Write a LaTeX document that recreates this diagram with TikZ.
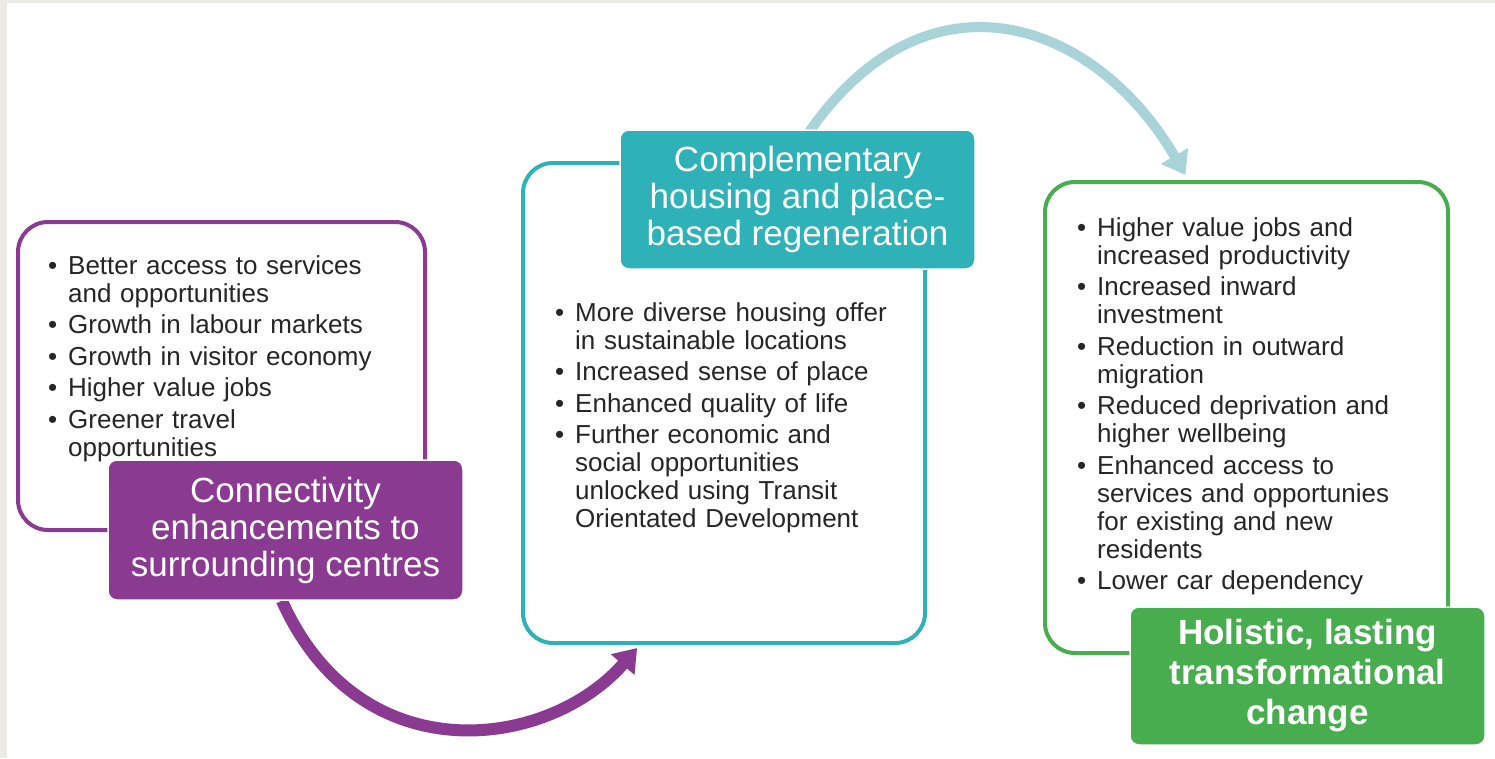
\documentclass[tikz,border=0pt]{standalone}
\usepackage{fontspec}
\setmainfont{Liberation Sans}
\usetikzlibrary{arrows.meta,calc}
\definecolor{cpurple}{HTML}{8B3A92}
\definecolor{cteal}{HTML}{2EB2B8}
\definecolor{cgreen}{HTML}{47AD4E}
\definecolor{carrow}{HTML}{A8D3D9}
\definecolor{cband}{HTML}{EBEAE5}
\definecolor{ctext}{HTML}{262626}
\newcommand\bitem[1]{\hangindent=20pt\hangafter=1\noindent\hbox to 20pt{\textbullet\hfil}#1\par}
\newcommand\nl{\hfil\break}
\pgfdeclarelayer{back}
\pgfdeclarelayer{bg}
\pgfsetlayers{back,bg,main}
\begin{document}
\begin{tikzpicture}[x=1pt,y=-1pt,
  obox/.style={draw=#1, line width=4pt, rounded corners=30pt, inner sep=0pt},
  tbox/.style={fill=#1, draw=white, line width=1.5pt, rounded corners=9pt, inner sep=0pt,
               align=center, text=white, font=\fontsize{35}{37}\selectfont},
  listtext/.style={anchor=base west, inner sep=0pt, text width=380pt, align=left,
               text=ctext, font=\fontsize{26}{28}\selectfont},
  bigarrow/.style={draw=#1, -{Triangle[width=30pt,length=22pt]}},
]
\begin{pgfonlayer}{back}
  \fill[cband] (0,0) rectangle (1495,758);
  \fill[white] (7,3) rectangle (1495,758);
\end{pgfonlayer}
\useasboundingbox (0,0) rectangle (1495,758);

% outline boxes
\node[obox=cpurple, minimum width=407pt, minimum height=308pt] (pbox) at (221.5,376) {};
\node[obox=cteal,   minimum width=402pt, minimum height=480pt] (tbox) at (724,403) {};
\node[obox=cgreen,  minimum width=403pt, minimum height=471pt] (gbox) at (1246.5,417.5) {};

% title boxes
\node[tbox=cpurple, minimum width=355pt, minimum height=140pt] (ptitle) at (285.5,530)
  {Connectivity\\enhancements to\\surrounding centres};
\node[tbox=cteal, minimum width=355pt, minimum height=139pt] (ttitle) at (797.5,199.5)
  {Complementary\\housing and place-\\based regeneration};
\node[tbox=cgreen, minimum width=355pt, minimum height=138pt,
      font=\fontsize{35}{40}\selectfont\bfseries] (gtitle) at (1307.5,676)
  {Holistic, lasting\\transformational\\change};

% lists
\node[listtext] (plist) at (48,274) {\setlength{\parskip}{3.5pt}%
  \bitem{Better access to services\nl and opportunities}
  \bitem{Growth in labour markets}
  \bitem{Growth in visitor economy}
  \bitem{Higher value jobs}
  \bitem{Greener travel\nl opportunities}};
\node[listtext] (tlist) at (555,321) {\setlength{\parskip}{3.5pt}%
  \bitem{More diverse housing offer\nl in sustainable locations}
  \bitem{Increased sense of place}
  \bitem{Enhanced quality of life}
  \bitem{Further economic and\nl social opportunities\nl unlocked using Transit\nl Orientated Development}};
\node[listtext] (glist) at (1077,236) {\setlength{\parskip}{3.5pt}%
  \bitem{Higher value jobs and\nl increased productivity}
  \bitem{Increased inward\nl investment}
  \bitem{Reduction in outward\nl migration}
  \bitem{Reduced deprivation and\nl higher wellbeing}
  \bitem{Enhanced access to\nl services and opportunies\nl for existing and new\nl residents}
  \bitem{Lower car dependency}};

% arrows
\begin{pgfonlayer}{bg}
  \draw[bigarrow=cpurple, line width=12pt]
    ($(ptitle.south west)!0.49!(ptitle.south east)$)
    .. controls (360,775) and (548,750) ..
    ($(tbox.south west)!0.286!(tbox.south east)+(0,3)$);
  \draw[bigarrow=carrow, line width=10pt]
    ($(ttitle.north west)!0.53!(ttitle.north east)+(0,4)$)
    .. controls (928,-40) and (1096,21) ..
    ($(gbox.north west)!0.35!(gbox.north east)+(0,-5)$);
\end{pgfonlayer}
\end{tikzpicture}
\end{document}
